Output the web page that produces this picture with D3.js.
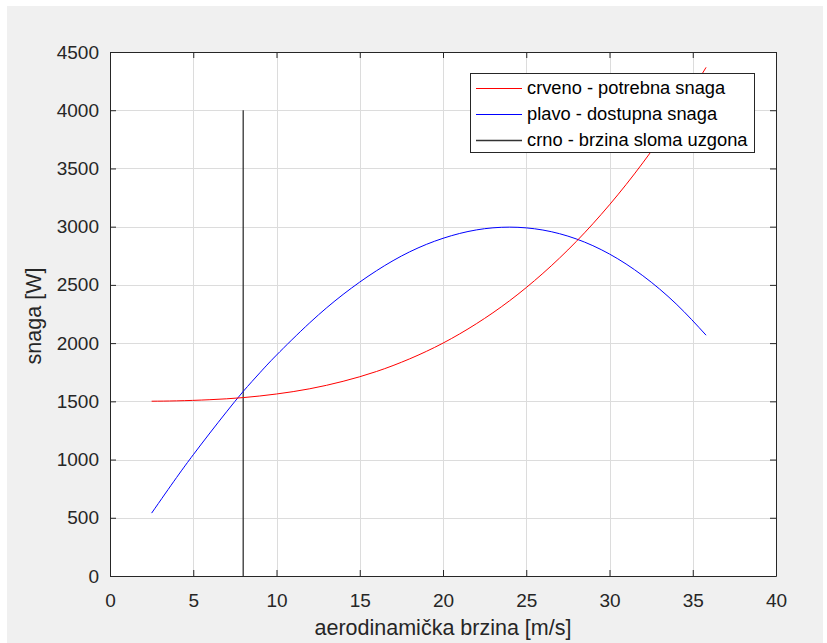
<!DOCTYPE html>
<html>
<head>
<meta charset="utf-8">
<script src="https://cdn.jsdelivr.net/npm/d3@7"></script>
<style>
  html, body { margin: 0; padding: 0; background: #ffffff; }
  svg { display: block; }
  text { font-family: "Liberation Sans", Arial, sans-serif; }
</style>
</head>
<body>
<svg id="chart" width="827" height="643"></svg>
<script>
// ---- data ----
const redX   = [2.5, 4, 6, 8, 10, 12, 14, 16, 18, 20, 22, 24, 26, 28, 30, 32, 34, 35.8];
const redY   = [1501, 1504, 1514, 1532, 1563, 1608, 1672, 1756, 1865, 2000, 2166, 2364, 2599, 2872, 3188, 3548, 3956, 4368];
const blueX  = [2.5, 4, 5, 6, 7, 8, 9, 10, 12, 14, 16, 18, 20, 22, 24, 26, 28, 30, 32, 34, 35.8];
const blueY  = [540, 846, 1041, 1228, 1410, 1585, 1745, 1897, 2175, 2418, 2621, 2784, 2900, 2972, 2996, 2971, 2895, 2765, 2579, 2337, 2068];
const blackX = [8, 8];
const blackY = [0, 4000];
const xTicks = [0, 5, 10, 15, 20, 25, 30, 35, 40];
const yTicks = [0, 500, 1000, 1500, 2000, 2500, 3000, 3500, 4000, 4500];
const legendLabels = ["crveno - potrebna snaga", "plavo - dostupna snaga", "crno - brzina sloma uzgona"];
const seriesColors = ["#ff0000", "#0000ff", "#333333"];
const xLabel = "aerodinamička brzina [m/s]";
const yLabel = "snaga [W]";

const svg = d3.select("#chart");
const L = 110, R = 776, T = 52, B = 576;
const axisColor = "#262626";

// figure background
svg.append("rect").attr("x", 7).attr("y", 6).attr("width", 816).attr("height", 637).attr("fill", "#f0f0f0");

const x = d3.scaleLinear().domain([0, 40]).range([L, R]);
const y = d3.scaleLinear().domain([0, 4500]).range([B, T]);

// plot area
svg.append("rect").attr("x", L).attr("y", T).attr("width", R - L).attr("height", B - T).attr("fill", "#ffffff");

// grid
const grid = svg.append("g").attr("stroke", "#dcdcdc").attr("stroke-width", 1);
xTicks.forEach(t => grid.append("line").attr("x1", Math.round(x(t)) + 0.5).attr("x2", Math.round(x(t)) + 0.5).attr("y1", T).attr("y2", B));
yTicks.forEach(t => grid.append("line").attr("y1", Math.round(y(t)) + 0.5).attr("y2", Math.round(y(t)) + 0.5).attr("x1", L).attr("x2", R));

// clip
svg.append("clipPath").attr("id", "clip").append("rect").attr("x", L).attr("y", T).attr("width", R - L).attr("height", B - T);
const plot = svg.append("g").attr("clip-path", "url(#clip)");

const line = d3.line().x(d => x(d[0])).y(d => y(d[1])).curve(d3.curveNatural);
const lineStraight = d3.line().x(d => x(d[0])).y(d => y(d[1]));

plot.append("path").datum(blackX.map((v, i) => [v, blackY[i]])).attr("d", lineStraight)
  .attr("fill", "none").attr("stroke", seriesColors[2]).attr("stroke-width", 1.3);
plot.append("path").datum(blueX.map((v, i) => [v, blueY[i]])).attr("d", line)
  .attr("fill", "none").attr("stroke", seriesColors[1]).attr("stroke-width", 1);
plot.append("path").datum(redX.map((v, i) => [v, redY[i]])).attr("d", line)
  .attr("fill", "none").attr("stroke", seriesColors[0]).attr("stroke-width", 1);

// axes (MATLAB style box, inward ticks)
const tickLen = 6;
const tickFont = "19px";
const xAxisB = d3.axisBottom(x).tickValues(xTicks).tickSizeInner(-tickLen).tickSizeOuter(0).tickPadding(18).tickFormat(d3.format("d"));
const yAxisL = d3.axisLeft(y).tickValues(yTicks).tickSizeInner(-tickLen).tickSizeOuter(0).tickPadding(11).tickFormat(d3.format("d"));
const xAxisT = d3.axisTop(x).tickValues(xTicks).tickSizeInner(-tickLen).tickSizeOuter(0).tickFormat("");
const yAxisR = d3.axisRight(y).tickValues(yTicks).tickSizeInner(-tickLen).tickSizeOuter(0).tickFormat("");

function style(g) {
  g.select(".domain").attr("stroke", axisColor);
  g.selectAll(".tick line").attr("stroke", axisColor);
  g.selectAll(".tick text").attr("fill", axisColor).style("font-size", tickFont).style("font-family", "'Liberation Sans', Arial, sans-serif");
}
svg.append("g").attr("transform", `translate(0,${B})`).call(xAxisB).call(style);
svg.append("g").attr("transform", `translate(${L},0)`).call(yAxisL).call(style);
svg.append("g").attr("transform", `translate(0,${T})`).call(xAxisT).call(style);
svg.append("g").attr("transform", `translate(${R},0)`).call(yAxisR).call(style);

// axis labels
svg.append("text").attr("x", (L + R) / 2).attr("y", 635).attr("text-anchor", "middle")
  .attr("fill", axisColor).style("font-size", "21.5px").text(xLabel);
svg.append("text").attr("transform", `translate(41,${(T + B) / 2 + 2}) rotate(-90)`).attr("text-anchor", "middle")
  .attr("fill", axisColor).style("font-size", "21.5px").text(yLabel);

// legend
const lg = svg.append("g");
lg.append("rect").attr("x", 470.5).attr("y", 73.5).attr("width", 284).attr("height", 79)
  .attr("fill", "#ffffff").attr("stroke", axisColor).attr("stroke-width", 1);
const rowY = [88, 114, 140];
legendLabels.forEach((lab, i) => {
  lg.append("line").attr("x1", 476).attr("x2", 522).attr("y1", rowY[i] + 0.5).attr("y2", rowY[i] + 0.5)
    .attr("stroke", seriesColors[i]).attr("stroke-width", i === 2 ? 1.3 : 1);
  lg.append("text").attr("x", 527).attr("y", rowY[i]).attr("dy", "0.35em")
    .attr("fill", "#000").style("font-size", "18.3px").text(lab);
});
</script>
</body>
</html>
